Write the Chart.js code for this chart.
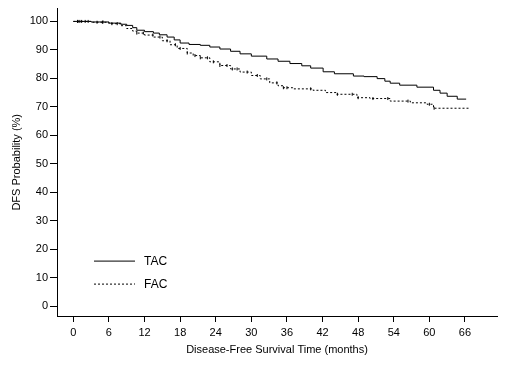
<!DOCTYPE html>
<html>
<head>
<meta charset="utf-8">
<title>DFS Kaplan-Meier</title>
<script src="https://cdn.jsdelivr.net/npm/chart.js@4/dist/chart.umd.min.js"></script>
<style>
  html, body { margin: 0; padding: 0; background: #fff; }
  #wrap { width: 506px; height: 371px; }
</style>
</head>
<body>
<div id="wrap"><canvas id="kmChart" width="506" height="371"></canvas></div>
<script>
// 横轴刻度（月）与纵轴刻度（%）
var xTicks = [0, 6, 12, 18, 24, 30, 36, 42, 48, 54, 60, 66];
var yTicks = [0, 10, 20, 30, 40, 50, 60, 70, 80, 90, 100];

// TAC 组 - 阶梯点（时间, 生存率）
var tacTimes = [0, 3, 6, 8, 9, 10, 10.7, 12, 13.5, 14.5, 15.8, 17, 18, 19.5, 21.4, 23, 24.7, 26.5, 28.1, 30,
    32.6, 34.5, 36.5, 38.5, 40, 42.1, 44, 47.2, 49, 51.2, 52.5, 53.4, 55, 57.9, 60.7, 61.8, 63, 64.7, 66.2];
var tacSurv = [100, 99.8, 99.4, 99.0, 98.6, 97.8, 96.9, 96.4, 95.9, 95.3, 94.5, 93.5, 92.4, 91.9, 91.6, 91.0, 90.3, 89.5, 88.6, 87.8,
    86.8, 86.0, 85.2, 84.4, 83.6, 82.3, 81.6, 80.8, 80.6, 79.9, 79.0, 78.3, 77.6, 76.9, 75.8, 74.8, 73.7, 72.7, 72.7];

// FAC 组 - 阶梯点（时间, 生存率）
var facTimes = [0, 3, 6, 8, 9, 10, 10.7, 12, 13.5, 15, 16.3, 17.5, 19.2, 20.2, 21.4, 23, 24.7, 26.5, 28.1, 30,
    31.5, 33.1, 34.5, 35.4, 37, 40.4, 42.5, 44.4, 47.8, 50, 53.4, 56.8, 59.6, 60.7, 66.6];
var facSurv = [100, 99.7, 99.2, 98.5, 97.5, 96.6, 95.9, 95.2, 94.5, 93.2, 91.8, 90.5, 88.9, 88.0, 87.2, 85.8, 84.5, 83.3, 82.2, 81.0,
    79.8, 78.4, 77.4, 76.7, 76.3, 75.8, 75.0, 74.4, 73.2, 72.9, 72.0, 71.4, 70.9, 69.5, 69.5];

// 删失时间点（月）
var tacCensor = [0.7, 1.1, 2.5, 5];
var facCensor = [0.8, 1.4, 2, 4, 4.9, 6.5, 7.4, 10.7, 11.8, 13.4, 14.6, 15.8, 17.2, 18, 19.2, 20.5, 21.4, 22.6, 23.6,
    24.7, 25.9, 26.8, 27.6, 29.3, 31, 32.6, 34.3, 35.4, 36, 40, 44.5, 47, 48, 50.5, 53, 56.4, 60, 60.8];

var legendItems = [
    { label: 'TAC', dash: [] },
    { label: 'FAC', dash: [2, 2] }
];

// 阶梯函数取值
function stepValue(times, surv, t) {
    var v = surv[0];
    for (var i = 0; i < times.length; i++) {
        if (times[i] <= t) v = surv[i];
    }
    return v;
}

function toPoints(times, surv) {
    return times.map(function(t, i) { return { x: t, y: surv[i] }; });
}

function censorPoints(times, surv, cens) {
    return cens.map(function(t) { return { x: t, y: stepValue(times, surv, t) }; });
}

Chart.defaults.font.family = "'Liberation Sans', Arial, sans-serif";
Chart.defaults.color = '#000';

// 图内图例
var insideLegend = {
    id: 'insideLegend',
    afterDraw: function(chart) {
        var ctx = chart.ctx;
        var area = chart.chartArea;
        ctx.save();
        ctx.strokeStyle = '#000';
        ctx.fillStyle = '#000';
        ctx.lineWidth = 1;
        ctx.font = "12px 'Liberation Sans', Arial, sans-serif";
        ctx.textBaseline = 'middle';
        legendItems.forEach(function(item, i) {
            var y = area.top + 252.5 + i * 23;
            ctx.setLineDash(item.dash);
            ctx.beginPath();
            ctx.moveTo(area.left + 37, y);
            ctx.lineTo(area.left + 78, y);
            ctx.stroke();
            ctx.setLineDash([]);
            ctx.fillText(item.label, area.left + 87, y + 1);
        });
        ctx.restore();
    }
};

var ctx = document.getElementById('kmChart');
var myChart = new Chart(ctx, {
    type: 'line',
    data: {
        datasets: [{
            label: 'TAC',
            data: toPoints(tacTimes, tacSurv),
            borderColor: '#000',
            borderWidth: 1,
            stepped: 'before',
            pointRadius: 0,
            fill: false
        }, {
            label: 'FAC',
            data: toPoints(facTimes, facSurv),
            borderColor: '#000',
            borderWidth: 1,
            borderDash: [2, 2],
            stepped: 'before',
            pointRadius: 0,
            fill: false
        }, {
            label: 'TAC censored',
            data: censorPoints(tacTimes, tacSurv, tacCensor),
            showLine: false,
            pointStyle: 'line',
            rotation: 90,
            pointRadius: 1.5,
            borderColor: '#000',
            borderWidth: 1
        }, {
            label: 'FAC censored',
            data: censorPoints(facTimes, facSurv, facCensor),
            showLine: false,
            pointStyle: 'line',
            rotation: 90,
            pointRadius: 1.5,
            borderColor: '#000',
            borderWidth: 1
        }]
    },
    options: {
        responsive: false,
        animation: false,
        events: [],
        layout: { padding: { top: 7, right: 9, left: 0, bottom: 0 } },
        plugins: {
            legend: { display: false },
            tooltip: { enabled: false }
        },
        scales: {
            x: {
                type: 'linear',
                min: -2.75,
                max: 71.4,
                afterBuildTicks: function(scale) {
                    scale.ticks = xTicks.map(function(v) { return { value: v }; });
                },
                afterFit: function(scale) { scale.height = 55; },
                grid: { display: true, drawOnChartArea: false, drawTicks: true, tickLength: 6, color: '#000', lineWidth: 1 },
                border: { display: true, color: '#000', width: 1 },
                ticks: { font: { size: 11 }, padding: 4, maxRotation: 0, autoSkip: false },
                title: { display: true, text: 'Disease-Free Survival Time (months)', font: { size: 11 }, padding: { bottom: 14 } }
            },
            y: {
                type: 'linear',
                min: -3.5,
                max: 104.5,
                afterBuildTicks: function(scale) {
                    scale.ticks = yTicks.map(function(v) { return { value: v }; });
                },
                afterFit: function(scale) { scale.width = 57; },
                grid: { display: true, drawOnChartArea: false, drawTicks: true, tickLength: 7, color: '#000', lineWidth: 1 },
                border: { display: true, color: '#000', width: 1 },
                ticks: { font: { size: 11 }, padding: 2, autoSkip: false },
                title: { display: true, text: 'DFS Probability (%)', font: { size: 11 }, padding: { top: 10 } }
            }
        }
    },
    plugins: [insideLegend]
});
</script>
</body>
</html>
